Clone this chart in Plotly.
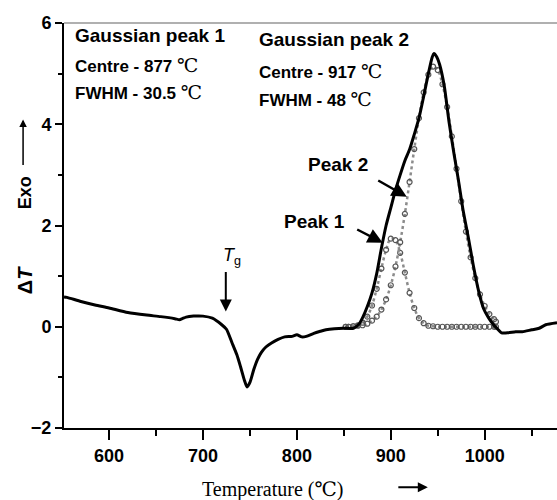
import plotly.graph_objects as go

# Main DTA curve (temperature in degC, delta T)
temp_main = [552, 555, 570, 585, 600, 620, 640, 655, 670, 675, 678, 682, 690, 700, 710,
             720, 725, 731, 736, 740, 744, 747, 750, 754, 758, 762, 767, 773, 780,
             787, 795, 800, 805, 810, 818, 825, 831, 840, 850, 860, 866, 870, 875,
             880, 885, 890, 895, 900, 905, 910, 915, 920, 925, 930, 935, 940, 944,
             946, 949, 952, 957, 962, 967, 972, 977, 983, 988, 994, 999, 1004, 1009,
             1013, 1018, 1025, 1033, 1040, 1050, 1058, 1065, 1077]
dt_main = [0.59, 0.58, 0.50, 0.43, 0.37, 0.28, 0.23, 0.20, 0.16, 0.14, 0.16, 0.19, 0.21, 0.21, 0.17,
           0.04, -0.05, -0.32, -0.55, -0.79, -1.05, -1.19, -1.10, -0.85, -0.65, -0.51, -0.40, -0.32, -0.25,
           -0.20, -0.19, -0.16, -0.20, -0.19, -0.13, -0.09, -0.06, -0.04, -0.03, -0.03, 0.05, 0.18, 0.40,
           0.67, 1.05, 1.55, 2.00, 2.35, 2.70, 3.00, 3.28, 3.50, 3.80, 4.12, 4.55, 5.00, 5.32,
           5.40, 5.33, 5.18, 4.75, 4.05, 3.45, 2.90, 2.30, 1.72, 1.20, 0.67, 0.35, 0.18, 0.05,
           -0.03, -0.12, -0.12, -0.10, -0.10, -0.06, -0.03, 0.04, 0.08]

# Gaussian fit curves (dotted)
temp_fit = [852, 855, 860, 865, 870, 875, 880, 885, 890, 895, 900, 905, 910, 915, 920,
            925, 930, 935, 940, 945, 950, 955, 960, 965, 970, 975, 980, 985, 990, 995,
            1000, 1005, 1010, 1012]
peak1 = [0.00, 0.00, 0.01, 0.03, 0.08, 0.20, 0.42, 0.75, 1.15, 1.52, 1.74, 1.71, 1.46, 1.07, 0.67,
         0.37, 0.17, 0.07, 0.02, 0.01, 0.00, 0.00, 0.00, 0.00, 0.00, 0.00, 0.00, 0.00, 0.00, 0.00,
         0.00, 0.00, 0.00, 0.00]
peak2 = [0.00, 0.00, 0.01, 0.02, 0.03, 0.06, 0.12, 0.20, 0.34, 0.54, 0.82, 1.19, 1.67, 2.23, 2.86,
         3.51, 4.12, 4.63, 4.98, 5.14, 5.07, 4.79, 4.34, 3.76, 3.12, 2.48, 1.88, 1.37, 0.96, 0.64,
         0.41, 0.25, 0.15, 0.10]

x_ticks = [600, 700, 800, 900, 1000]
y_ticks = [-2, 0, 2, 4, 6]

BOLD = "Liberation Sans"
SERIF = "Liberation Serif, DejaVu Serif, serif"
degc = '<span style="font-family:DejaVu Serif;font-weight:normal;font-size:19px">℃</span>'

fig = go.Figure()
for ys in (peak1, peak2):
    fig.add_trace(go.Scatter(x=temp_fit, y=ys, mode="lines+markers",
                             line=dict(color="#8c8c8c", width=2.5, dash="dot", shape="spline"),
                             marker=dict(symbol="circle-open", size=5, color="#555555",
                                         line=dict(width=1.2)),
                             showlegend=False, hoverinfo="skip"))
fig.add_trace(go.Scatter(x=temp_main, y=dt_main, mode="lines",
                         line=dict(color="black", width=3, shape="spline", smoothing=0.6),
                         showlegend=False))

ann = []
def txt(x, y, t, size, xref="x", yref="y", xanchor="left", angle=0, family=BOLD):
    ann.append(dict(x=x, y=y, xref=xref, yref=yref, text=t, showarrow=False,
                    xanchor=xanchor, yanchor="middle", textangle=angle,
                    font=dict(family=family, size=size, color="black")))

txt(561.5, 5.75, "<b>Gaussian peak 1</b>", 19)
txt(561.5, 5.17, "<b>Centre - 877 </b>" + degc, 17)
txt(561.5, 4.63, "<b>FWHM - 30.5 </b>" + degc, 17)
txt(757.5, 5.67, "<b>Gaussian peak 2</b>", 19)
txt(757.5, 5.05, "<b>Centre - 917 </b>" + degc, 17)
txt(757.5, 4.50, "<b>FWHM - 48 </b>" + degc, 17)
txt(809.5, 3.20, "<b>Peak 2</b>", 19)
txt(784.0, 2.08, "<b>Peak 1</b>", 19)
txt(731.0, 1.38, "<i>T</i><sub>g</sub>", 18, xanchor="center")

def arrow(x, y, ax, ay, xref="x", yref="y", size=1.2, width=2.5):
    ann.append(dict(x=x, y=y, xref=xref, yref=yref, ax=ax, ay=ay, text="",
                    showarrow=True, arrowhead=2, arrowsize=size, arrowwidth=width,
                    arrowcolor="black"))

arrow(917.0, 2.57, -30, -17)
arrow(891.4, 1.66, -27, -14)
arrow(724.3, 0.30, 0, -41, width=2)

# axis titles
txt(-0.079, 0.365, "<b>Δ<i>T</i></b>", 20, xref="paper", yref="paper", xanchor="center", angle=-90)
txt(-0.079, 0.580, "<b>Exo</b>", 18, xref="paper", yref="paper", xanchor="center", angle=-90)
arrow(-0.083, 0.762, 0, 47, xref="paper", yref="paper", size=1.0, width=1.5)
txt(0.422, -0.151, "Temperature (℃)", 20, xref="paper", yref="paper", xanchor="center", family=SERIF)
arrow(0.738, -0.146, -31, 0, xref="paper", yref="paper", size=1.0, width=2)

fig.update_layout(
    width=557, height=500,
    margin=dict(l=64, r=0, t=23, b=72),
    paper_bgcolor="white", plot_bgcolor="white",
    annotations=ann,
    shapes=[dict(type="line", xref="paper", yref="paper", x0=0, x1=1, y0=1, y1=1,
                 line=dict(color="#b0b0b0", width=2))],
    xaxis=dict(range=[552, 1077], tickvals=x_ticks, ticks="outside", ticklen=10, tickwidth=2,
               tickcolor="black", showline=True, linecolor="black", linewidth=2,
               showgrid=False, zeroline=False,
               tickfont=dict(family=BOLD, size=18, color="black", weight="bold"),
               minor=dict(tickvals=[650, 750, 850, 950, 1050], ticks="outside", ticklen=6,
                          tickwidth=2, tickcolor="black")),
    yaxis=dict(range=[-2, 6], tickvals=y_ticks, ticks="outside", ticklen=7, tickwidth=2,
               tickcolor="black", showline=True, linecolor="black", linewidth=2,
               showgrid=False, zeroline=False,
               tickfont=dict(family=BOLD, size=18, color="black", weight="bold"),
               minor=dict(tickvals=[-1, 1, 3, 5], ticks="outside", ticklen=4,
                          tickwidth=2, tickcolor="black")),
)

fig.write_html("out.html")
